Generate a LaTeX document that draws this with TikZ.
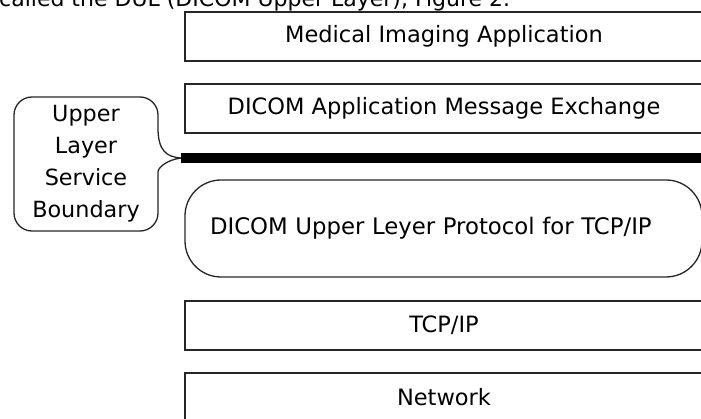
\documentclass[tikz,border=0pt]{standalone}
\usepackage{fontspec}
\setmainfont{DejaVu Sans}
\usetikzlibrary{positioning}

\tikzset{
  layerbox/.style={draw=black!85, line width=1.4pt, minimum width=518pt,
    minimum height=49pt, inner sep=0pt, font=\fontsize{22.5}{26}\selectfont},
  dulshape/.style={draw=black!85, line width=1.3pt, rounded corners=36pt,
    minimum height=97pt, inner xsep=25pt, inner ysep=0pt, text width=467pt,
    align=left, font=\fontsize{22.8}{26}\selectfont},
  note/.style={align=center, font=\fontsize{22.3}{32}\selectfont, inner sep=0pt},
  outline/.style={draw=black!85, line width=1.3pt}
}

\begin{document}
\begin{tikzpicture}[x=1pt,y=-1pt]
  \useasboundingbox (0,0) rectangle (701,419);
  \clip (0,0) rectangle (701,419);
  % running text cut off above
  \node[anchor=base west, inner sep=0pt, font=\fontsize{22}{26}\selectfont] (intro) at (-1,7)
    {called the DUL (DICOM Upper Layer), Figure 2.};
  % the layers
  \node[layerbox] (app) at (444,36.5) {Medical Imaging Application};
  \node[layerbox] (msg) at (444,108.5) {DICOM Application Message Exchange};
  \node[dulshape] (ulp) at (443.5,228.5) {DICOM Upper Leyer Protocol for TCP/IP};
  \node[layerbox] (tcp) at (444,325.5) {TCP/IP};
  \node[layerbox] (net) at (444,397.5) {Network};
  % service boundary
  \coordinate (bnd) at (181,158);
  \coordinate (bndend) at (710,158);
  \draw[line width=10pt] (bnd) -- (bndend);
  % callout
  \node[note] (label) at (86,164) {Upper\\Layer\\Service\\Boundary};
  \draw[outline] (bnd) .. controls (166,157) and (158,150) .. (158,128)
    [rounded corners=18pt] -- (158,97) -- (14,97) -- (14,231) -- (158,231) -- (158,190)
    [sharp corners] .. controls (158,168) and (166,160) .. (bnd);
\end{tikzpicture}
\end{document}
